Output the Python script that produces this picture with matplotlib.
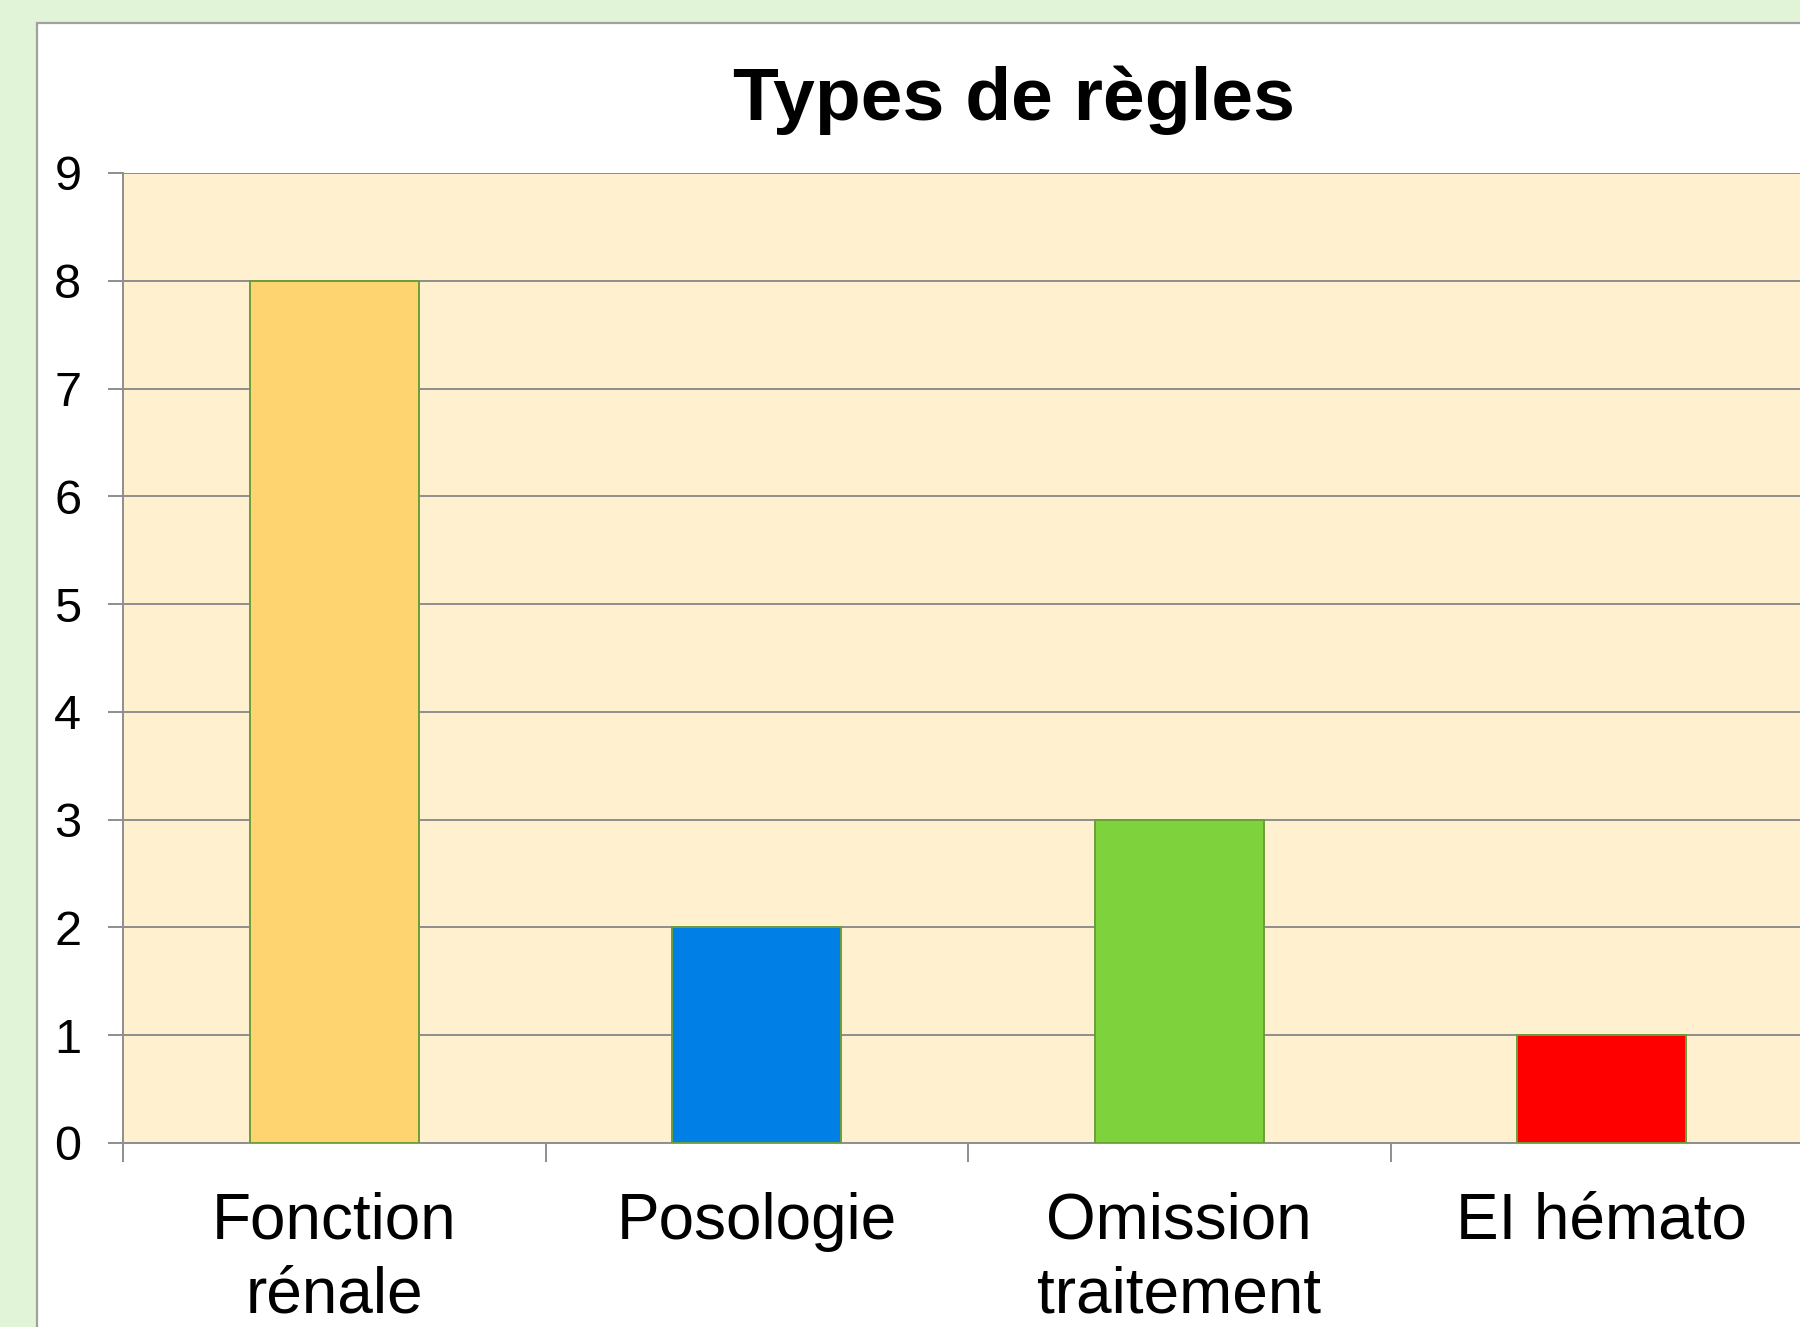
import matplotlib as mpl
import matplotlib.pyplot as plt
from matplotlib.patches import Rectangle

mpl.rcParams["font.family"] = ["Liberation Sans", "DejaVu Sans"]

categories = ["Fonction\nrénale", "Posologie", "Omission\ntraitement", "EI hémato"]
counts = [8, 2, 3, 1]
bar_colors = ["#FDD46F", "#0080E6", "#7ED23B", "#FF0000"]
y_ticks = list(range(0, 10))
title = "Types de règles"

GRID = "#8E8E8E"

fig = plt.figure(figsize=(18, 13.27), dpi=100)
fig.patch.set_facecolor("#E2F4D8")

# white chart area with grey frame, kept behind the axes
fig.patches.append(Rectangle((37 / 1800, -0.2), 2, 1.2 - 23 / 1327,
                             transform=fig.transFigure, facecolor="white",
                             edgecolor="#A0A0A0", lw=1.6, zorder=-1))

ax = fig.add_axes([123 / 1800, 184 / 1327, 1690 / 1800, 970 / 1327])
ax.set_zorder(1)
ax.set_facecolor("#FFF0CF")

x = list(range(len(categories)))
ax.bar(x, counts, width=0.4, color=bar_colors, edgecolor="#6A9E3A", lw=1.4, zorder=3)

ax.set_xlim(-0.5, len(categories) - 0.5)
ax.set_ylim(0, 9)
ax.set_yticks(y_ticks)
ax.yaxis.grid(True, color=GRID, lw=1.4)
ax.set_axisbelow(True)

for s in ["top", "right"]:
    ax.spines[s].set_visible(False)
for s in ["left", "bottom"]:
    ax.spines[s].set_color(GRID)
    ax.spines[s].set_linewidth(1.4)

ax.tick_params(axis="y", direction="out", length=11, width=1.4, color=GRID,
               labelsize=35, pad=19)
ax.set_xticks(x)
ax.set_xticklabels(categories, fontsize=46, linespacing=1.3)
ax.tick_params(axis="x", which="major", length=0, pad=35)
ax.set_xticks([i - 0.5 for i in range(len(categories) + 1)], minor=True)
ax.tick_params(axis="x", which="minor", direction="out", length=14, width=1.4, color=GRID)

fig.text(1014 / 1800, 1 - 120 / 1327, title, fontsize=54, fontweight="bold",
         ha="center", va="baseline")

fig.savefig("out.png", dpi=100, facecolor=fig.get_facecolor())
